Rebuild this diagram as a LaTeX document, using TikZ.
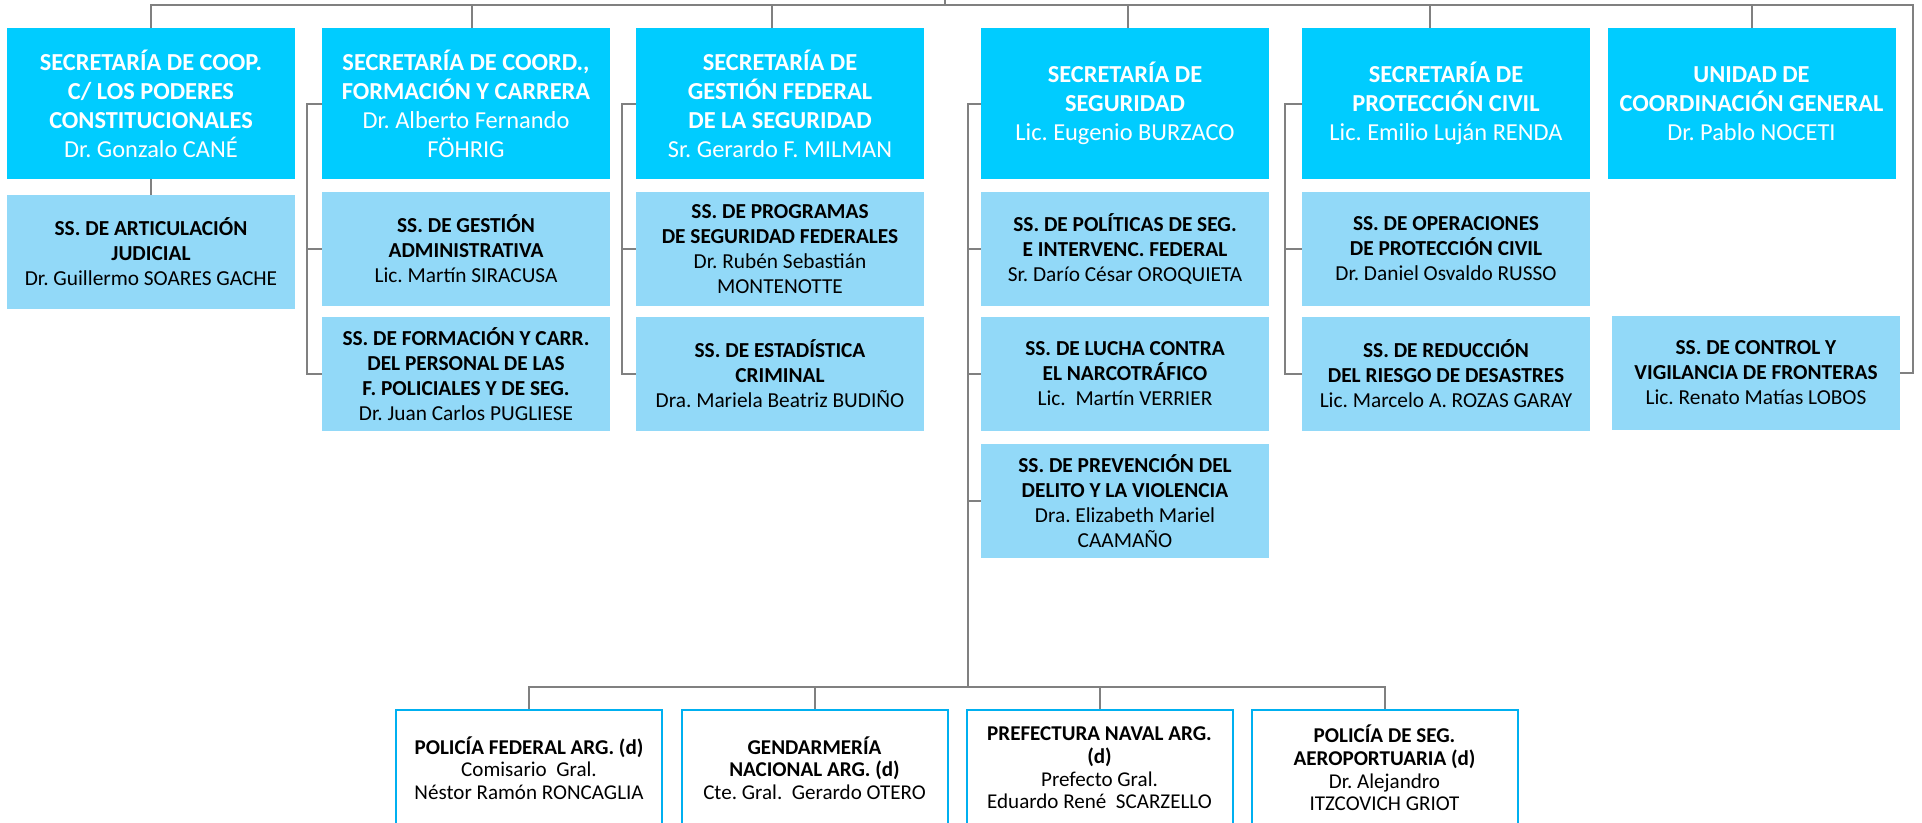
\documentclass[tikz,border=0pt]{standalone}
\usepackage{fontspec}
\setmainfont{Carlito}
\usetikzlibrary{calc}
\frenchspacing
\definecolor{mainc}{RGB}{0,204,255}
\definecolor{subc}{RGB}{146,217,248}
\definecolor{linec}{RGB}{128,128,128}
\definecolor{bordc}{RGB}{0,176,240}
\tikzset{
  mainbox/.style={fill=mainc, text=white, align=center, inner sep=0pt,
    minimum width=216pt, minimum height=113.25pt,
    font=\fontsize{18.3}{21.75}\selectfont},
  subbox/.style={fill=subc, text=black, align=center, inner sep=0pt,
    minimum width=216pt, minimum height=85.5pt,
    font=\fontsize{16}{18.75}\selectfont},
  forcebox/.style={draw=bordc, line width=1.5pt, fill=white, text=black, align=center, inner sep=0pt,
    minimum width=199.5pt, minimum height=87pt,
    font=\fontsize{15.8}{17}\selectfont},
  conn/.style={draw=linec, line width=1.5pt},
}
\begin{document}
\begin{tikzpicture}[x=0.75pt, y=-0.75pt]
\useasboundingbox (0,0) rectangle (1922,822);
% top level boxes
\node[mainbox] (s1) at (151,103.5) {\textbf{SECRETARÍA DE COOP.}\\\textbf{C/ LOS PODERES}\\\textbf{CONSTITUCIONALES}\\Dr. Gonzalo CANÉ};
\node[mainbox] (s2) at (466,103.5) {\textbf{SECRETARÍA DE COORD.,}\\\textbf{FORMACIÓN Y CARRERA}\\Dr. Alberto Fernando\\FÖHRIG};
\node[mainbox] (s3) at (780,103.5) {\textbf{SECRETARÍA DE}\\\textbf{GESTIÓN FEDERAL}\\\textbf{DE LA SEGURIDAD}\\Sr. Gerardo F. MILMAN};
\node[mainbox] (s4) at (1125,103.5) {\textbf{SECRETARÍA DE}\\\textbf{SEGURIDAD}\\Lic. Eugenio BURZACO};
\node[mainbox] (s5) at (1446,103.5) {\textbf{SECRETARÍA DE}\\\textbf{PROTECCIÓN CIVIL}\\Lic. Emilio Luján RENDA};
\node[mainbox] (s6) at (1751.5,103.5) {\textbf{UNIDAD DE}\\\textbf{COORDINACIÓN GENERAL}\\Dr. Pablo NOCETI};
% sub boxes
\node[subbox] (a1) at (151,252) {\textbf{SS. DE ARTICULACIÓN}\\\textbf{JUDICIAL}\\Dr. Guillermo SOARES GACHE};
\node[subbox] (b1) at (466,249) {\textbf{SS. DE GESTIÓN}\\\textbf{ADMINISTRATIVA}\\Lic. Martín SIRACUSA};
\node[subbox] (b2) at (466,374) {\textbf{SS. DE FORMACIÓN Y CARR.}\\\textbf{DEL PERSONAL DE LAS}\\\textbf{F. POLICIALES Y DE SEG.}\\Dr. Juan Carlos PUGLIESE};
\node[subbox] (c1) at (780,249) {\textbf{SS. DE PROGRAMAS}\\\textbf{DE SEGURIDAD FEDERALES}\\Dr. Rubén Sebastián\\MONTENOTTE};
\node[subbox] (c2) at (780,374) {\textbf{SS. DE ESTADÍSTICA}\\\textbf{CRIMINAL}\\Dra. Mariela Beatriz BUDIÑO};
\node[subbox] (d1) at (1125,249) {\textbf{SS. DE POLÍTICAS DE SEG.}\\\textbf{E INTERVENC. FEDERAL}\\Sr. Darío César OROQUIETA};
\node[subbox] (d2) at (1125,374) {\textbf{SS. DE LUCHA CONTRA}\\\textbf{EL NARCOTRÁFICO}\\Lic.~ Martín VERRIER};
\node[subbox] (d3) at (1125,501) {\textbf{SS. DE PREVENCIÓN DEL}\\\textbf{DELITO Y LA VIOLENCIA}\\Dra. Elizabeth Mariel\\CAAMAÑO};
\node[subbox] (e1) at (1446,249) {\textbf{SS. DE OPERACIONES}\\\textbf{DE PROTECCIÓN CIVIL}\\Dr. Daniel Osvaldo RUSSO};
\node[subbox] (e2) at (1446,374) {\textbf{SS. DE REDUCCIÓN}\\\textbf{DEL RIESGO DE DESASTRES}\\Lic. Marcelo A. ROZAS GARAY};
\node[subbox] (f1) at (1756,373) {\textbf{SS. DE CONTROL Y}\\\textbf{VIGILANCIA DE FRONTERAS}\\Lic. Renato Matías LOBOS};
% forces
\node[forcebox] (p1) at (529,768) {\textbf{POLICÍA FEDERAL ARG. (d)}\\Comisario~ Gral.\\Néstor Ramón RONCAGLIA};
\node[forcebox] (p2) at (814.5,768) {\textbf{GENDARMERÍA}\\\textbf{NACIONAL ARG. (d)}\\Cte. Gral.~ Gerardo OTERO};
\node[forcebox] (p3) at (1099.5,768) {\textbf{PREFECTURA NAVAL ARG.}\\\textbf{(d)}\\Prefecto Gral.\\Eduardo René~ SCARZELLO};
\node[forcebox] (p4) at (1384.5,768) {\textbf{POLICÍA DE SEG.}\\\textbf{AEROPORTUARIA (d)}\\Dr. Alejandro\\ITZCOVICH GRIOT};
% top bus
\coordinate (top) at (945,0);
\coordinate (busL) at (151,5);
\coordinate (busR) at (1913,5);
\draw[conn] (top) -- (top |- busL);
\draw[conn] (s1.north) -- (s1.north |- busL) -- (busR) |- (f1.east);
\draw[conn] ([xshift=4.5pt]s2.north) -- ++(0,-23);
\draw[conn] ([xshift=-6pt]s3.north) -- ++(0,-23);
\draw[conn] ([xshift=2.25pt]s4.north) -- ++(0,-23);
\draw[conn] ([xshift=-12pt]s5.north) -- ++(0,-23);
\draw[conn] (s6.north) -- ++(0,-23);
% column 1
\draw[conn] (s1.south) -- (a1.north);
% column 2
\draw[conn] (s2.west) -- ++(-15,0) coordinate (k2) |- (b2.west);
\draw[conn] (k2 |- b1.west) -- (b1.west);
% column 3
\draw[conn] (s3.west) -- ++(-14,0) coordinate (k3) |- (c2.west);
\draw[conn] (k3 |- c1.west) -- (c1.west);
% column 4
\coordinate (bus2) at (968,687);
\draw[conn] (s4.west) -- ++(-13,0) coordinate (k4) -- (k4 |- bus2);
\draw[conn] (k4 |- d1.west) -- (d1.west);
\draw[conn] (k4 |- d2.west) -- (d2.west);
\draw[conn] (k4 |- d3.west) -- (d3.west);
\draw[conn] (p1.north) -- (p1.north |- bus2) -- (p4.north |- bus2) -- (p4.north);
\draw[conn] (p2.north) -- (p2.north |- bus2);
\draw[conn] (p3.north) -- (p3.north |- bus2);
% column 5
\draw[conn] (s5.west) -- ++(-17,0) coordinate (k5) |- (e2.west);
\draw[conn] (k5 |- e1.west) -- (e1.west);
\end{tikzpicture}
\end{document}
